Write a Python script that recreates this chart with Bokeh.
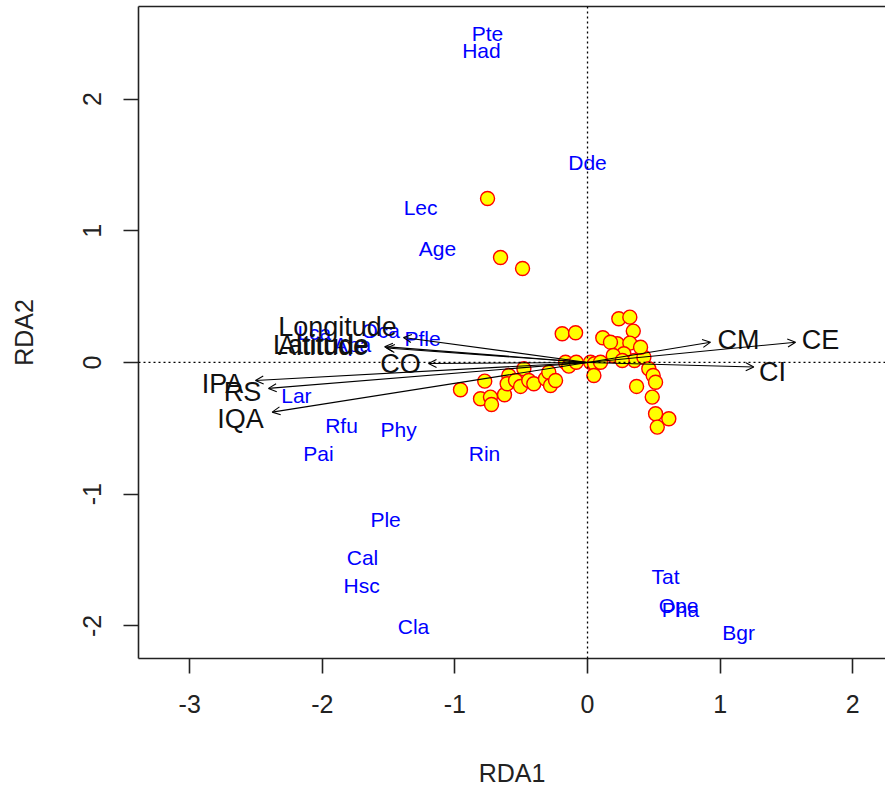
from bokeh.plotting import figure
from bokeh.models import Range1d, Span, Arrow, OpenHead, ColumnDataSource, LinearAxis, FixedTicker
from bokeh.embed import file_html
from bokeh.resources import INLINE
from bokeh.core.properties import value

# Site scores (RDA1, RDA2)
site_x = [-0.754, -0.656, -0.490, -0.958, -0.775, -0.807, -0.732, -0.724, -0.626, -0.594,
          -0.606, -0.543, -0.480, -0.505, -0.443, -0.405, -0.317, -0.292, -0.279, -0.241,
          -0.191, -0.090, -0.166, -0.141, -0.085, 0.023, 0.053, 0.098, 0.048, 0.115,
          0.236, 0.319, 0.345, 0.224, 0.319, 0.173, 0.274, 0.194, 0.354, 0.425,
          0.400, 0.262, 0.462, 0.370, 0.495, 0.513, 0.488, 0.513, 0.613, 0.526]
site_y = [1.245, 0.797, 0.714, -0.207, -0.142, -0.276, -0.263, -0.319, -0.245, -0.099,
          -0.162, -0.137, -0.048, -0.182, -0.137, -0.162, -0.124, -0.074, -0.175, -0.137,
          0.218, 0.226, 0.002, -0.028, 0.002, 0.002, -0.010, 0.002, -0.099, 0.188,
          0.332, 0.344, 0.238, 0.142, 0.147, 0.154, 0.066, 0.053, 0.015, 0.040,
          0.116, 0.015, -0.048, -0.182, -0.099, -0.150, -0.263, -0.390, -0.427, -0.491]

# Species scores
species = ["Pte", "Had", "Dde", "Lec", "Age", "Pfle", "Lca", "Oca", "Apa", "Lar", "Rfu",
           "Phy", "Pai", "Rin", "Ple", "Cal", "Hsc", "Cla", "Tat", "Ope", "Pha", "Bgr"]
species_x = [-0.754, -0.800, 0.000, -1.259, -1.131, -1.244, -2.060, -1.560, -1.772, -2.195, -1.855,
             -1.425, -2.029, -0.777, -1.523, -1.697, -1.704, -1.312, 0.588, 0.686, 0.701, 1.139]
species_y = [2.498, 2.369, 1.519, 1.177, 0.866, 0.182, 0.228, 0.243, 0.137, -0.251, -0.478,
             -0.509, -0.691, -0.691, -1.192, -1.481, -1.693, -2.005, -1.625, -1.845, -1.875, -2.050]

# Environmental biplot arrows: tips and label positions
env_names = ["Longitude", "Latitude", "Altitude", "CO", "IPA", "RS", "IQA", "CM", "CE", "CI"]
env_tip_x = [-1.388, -1.530, -1.515, -1.199, -2.504, -2.406, -2.378, 0.928, 1.569, 1.254]
env_tip_y = [0.190, 0.120, 0.110, -0.008, -0.137, -0.197, -0.377, 0.154, 0.154, -0.035]
env_lab_x = [-1.885, -2.010, -1.995, -1.410, -2.753, -2.602, -2.617, 1.139, 1.757, 1.395]
env_lab_y = [0.273, 0.132, 0.126, -0.008, -0.167, -0.228, -0.433, 0.167, 0.167, -0.076]

x_ticks = [-3, -2, -1, 0, 1, 2]
y_ticks = [-2, -1, 0, 1, 2]
x_tick_labels = ["-3", "-2", "-1", "0", "1", "2"]
y_tick_labels = ["-2", "-1", "0", "1", "2"]

FONT = "Liberation Sans"

p = figure(width=885, height=790,
           x_range=Range1d(-3.386, 2.247), y_range=Range1d(-2.248, 2.703),
           output_backend="svg", toolbar_location=None,
           min_border_left=138, min_border_right=0, min_border_top=6, min_border_bottom=132,
           x_axis_label="RDA1", y_axis_label="RDA2")
p.outline_line_color = None
p.xgrid.visible = False
p.ygrid.visible = False
p.background_fill_color = "white"
p.border_fill_color = "white"

for ax in (p.xaxis[0], p.yaxis[0]):
    ax.axis_line_color = "#222222"
    ax.axis_line_width = 1.6
    ax.major_tick_line_color = "#222222"
    ax.major_tick_line_width = 1.6
    ax.major_tick_out = 15
    ax.major_tick_in = 0
    ax.minor_tick_line_color = None
    ax.major_label_text_font = FONT
    ax.major_label_text_font_size = "25px"
    ax.major_label_text_color = "#222222"
    ax.axis_label_text_font = FONT
    ax.axis_label_text_font_size = "25px"
    ax.axis_label_text_font_style = "normal"
    ax.axis_label_text_color = "#222222"

p.xaxis[0].ticker = FixedTicker(ticks=x_ticks)
p.yaxis[0].ticker = FixedTicker(ticks=y_ticks)
p.xaxis[0].major_label_overrides = {t: s for t, s in zip(x_ticks, x_tick_labels)}
p.yaxis[0].major_label_overrides = {t: s for t, s in zip(y_ticks, y_tick_labels)}
p.xaxis[0].major_label_standoff = 21
p.xaxis[0].axis_label_standoff = 43
p.yaxis[0].major_label_orientation = "vertical"
p.yaxis[0].major_label_standoff = 22
p.yaxis[0].axis_label_standoff = 43

top = LinearAxis(ticker=FixedTicker(ticks=[]), axis_line_color="#222222", axis_line_width=1.6,
                 major_tick_out=0, major_tick_in=0, minor_tick_line_color=None,
                 major_label_standoff=0, major_label_text_font_size="0px")
p.add_layout(top, "above")

p.add_layout(Span(location=0, dimension="height", line_color="black", line_dash="2 3", line_width=1.3))
p.add_layout(Span(location=0, dimension="width", line_color="black", line_dash="2 3", line_width=1.3))

arr_src = ColumnDataSource(dict(x0=[0.0] * len(env_names), y0=[0.0] * len(env_names),
                                x1=env_tip_x, y1=env_tip_y))
p.add_layout(Arrow(source=arr_src, x_start="x0", y_start="y0", x_end="x1", y_end="y1",
                   line_color="black", line_width=1.1,
                   end=OpenHead(size=8, line_color="black", line_width=1.1)))

p.scatter(site_x, site_y, size=14, fill_color="yellow", line_color="red", line_width=1.4)

p.text(species_x, species_y, text=species, text_color="blue", text_font=value(FONT),
       text_font_size="21px", text_align="center", text_baseline="middle")
p.text(env_lab_x, env_lab_y, text=env_names, text_color="#111111", text_font=value(FONT),
       text_font_size="27px", text_align="center", text_baseline="middle")

open("out.html", "w").write(file_html(p, INLINE))
